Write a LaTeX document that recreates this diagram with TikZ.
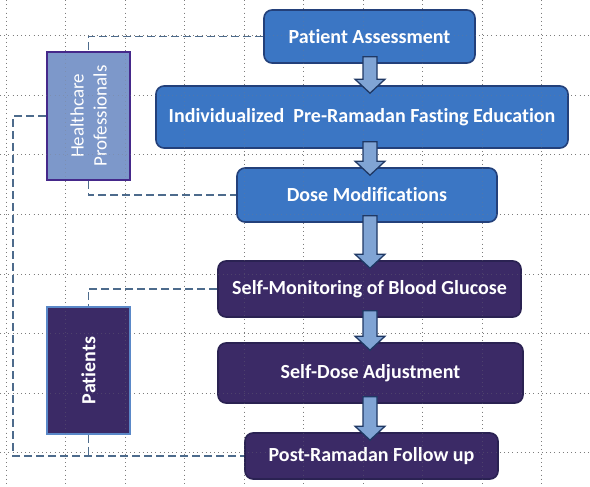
\documentclass[tikz,border=0pt]{standalone}
\usepackage{fontspec}
\setmainfont[Ligatures=NoCommon]{Carlito}
\usetikzlibrary{calc}
\definecolor{bluefill}{HTML}{3B76C4}
\definecolor{blueedge}{HTML}{23407A}
\definecolor{purpfill}{HTML}{3B2A66}
\definecolor{purpedge}{HTML}{2A2252}
\definecolor{hpfill}{HTML}{7D98CA}
\definecolor{hpedge}{HTML}{45288A}
\definecolor{ptedge}{HTML}{5A88C8}
\definecolor{arrfill}{HTML}{80A4D4}
\definecolor{arredge}{HTML}{1F3864}
\definecolor{dashcol}{HTML}{4D6B8C}
\definecolor{gridcol}{HTML}{7C7C7C}
\tikzset{
  stepbox/.style={rounded corners=8pt, line width=1.6pt, text=white,
    font=\fontsize{20}{23}\selectfont\bfseries, align=center, inner sep=0pt},
  bluebox/.style={stepbox, fill=bluefill, draw=blueedge},
  purpbox/.style={stepbox, fill=purpfill, draw=purpedge},
  rolebox/.style={line width=1.8pt, text=white, align=center, inner sep=0pt},
  link/.style={draw=dashcol, line width=1.4pt, dash pattern=on 8pt off 4pt},
  blockarrow/.style={fill=arrfill, draw=arredge, line width=1.3pt, line join=miter},
  gridline/.style={draw=gridcol, line width=1pt, dash pattern=on 1pt off 3.2pt},
}
\newcommand\blockarr[2]{%
  \path let \p1=(#1.south), \p2=(#2.north) in
    [blockarrow] (363pt,\y1+7pt) -- (363pt,\y2+6pt) -- (355pt,\y2+6pt)
      -- (370pt,\y2-8pt) -- (385pt,\y2+6pt) -- (377pt,\y2+6pt)
      -- (377pt,\y1+7pt) -- cycle;}
\newcommand\drawgrid{%
  \foreach \gx in {6,65.5,125,184.5,244,303.5,363,422.5,482,541.5}
    \draw[gridline] (\gx,0) -- (\gx,487);
  \foreach \gy in {36,95.5,155,214.5,274,333.5,393,452.5}
    \draw[gridline] (0,\gy) -- (590,\gy);}
\begin{document}
\begin{tikzpicture}[x=1pt,y=-1pt]
\useasboundingbox (0,0) rectangle (590,487);
\fill[white] (0,0) rectangle (590,487);
\drawgrid
% steps
\node[bluebox, minimum width=211pt, minimum height=53pt] (PA) at (369.5,36.5) {Patient Assessment};
\node[bluebox, minimum width=412pt, minimum height=62pt] (IE) at (362,117) {Individualized~ Pre-Ramadan Fasting Education};
\node[bluebox, minimum width=260pt, minimum height=54pt] (DM) at (367,195) {Dose Modifications};
\node[purpbox, minimum width=303pt, minimum height=56pt] (SM) at (369.5,289) {Self-Monitoring of Blood Glucose};
\node[purpbox, minimum width=305pt, minimum height=60pt] (SD) at (370.5,373) {Self-Dose Adjustment};
\node[purpbox, minimum width=253pt, minimum height=46pt] (PR) at (371.5,456) {Post-Ramadan Follow up};
% roles
\node[rolebox, fill=hpfill, draw=hpedge, minimum width=83pt, minimum height=128pt] (HP) at (88.5,116) {};
\node[text=white, rotate=90, align=center, font=\fontsize{19}{23}\selectfont] at (HP.center) {Healthcare\\Professionals};
\node[rolebox, fill=purpfill, draw=ptedge, minimum width=83pt, minimum height=127pt] (PT) at (88.5,370.5) {};
\node[text=white, rotate=90, font=\fontsize{20}{23}\selectfont\bfseries] at (PT.center) {Patients};
% faint grid over boxes
\begin{scope}[opacity=0.3]\drawgrid\end{scope}
% dashed links
\draw[link] (PA.west) -| (HP.north);
\draw[link] (HP.south) |- (DM.west);
\draw[link] (HP.west) -- ++(-33,0) |- (PR.west);
\draw[link] (SM.west) -| (PT.north);
\draw[link] (PT.south) -- (PT.south |- PR.west);
% block arrows
\blockarr{PA}{IE}
\blockarr{IE}{DM}
\blockarr{DM}{SM}
\blockarr{SM}{SD}
\blockarr{SD}{PR}
\end{tikzpicture}
\end{document}
